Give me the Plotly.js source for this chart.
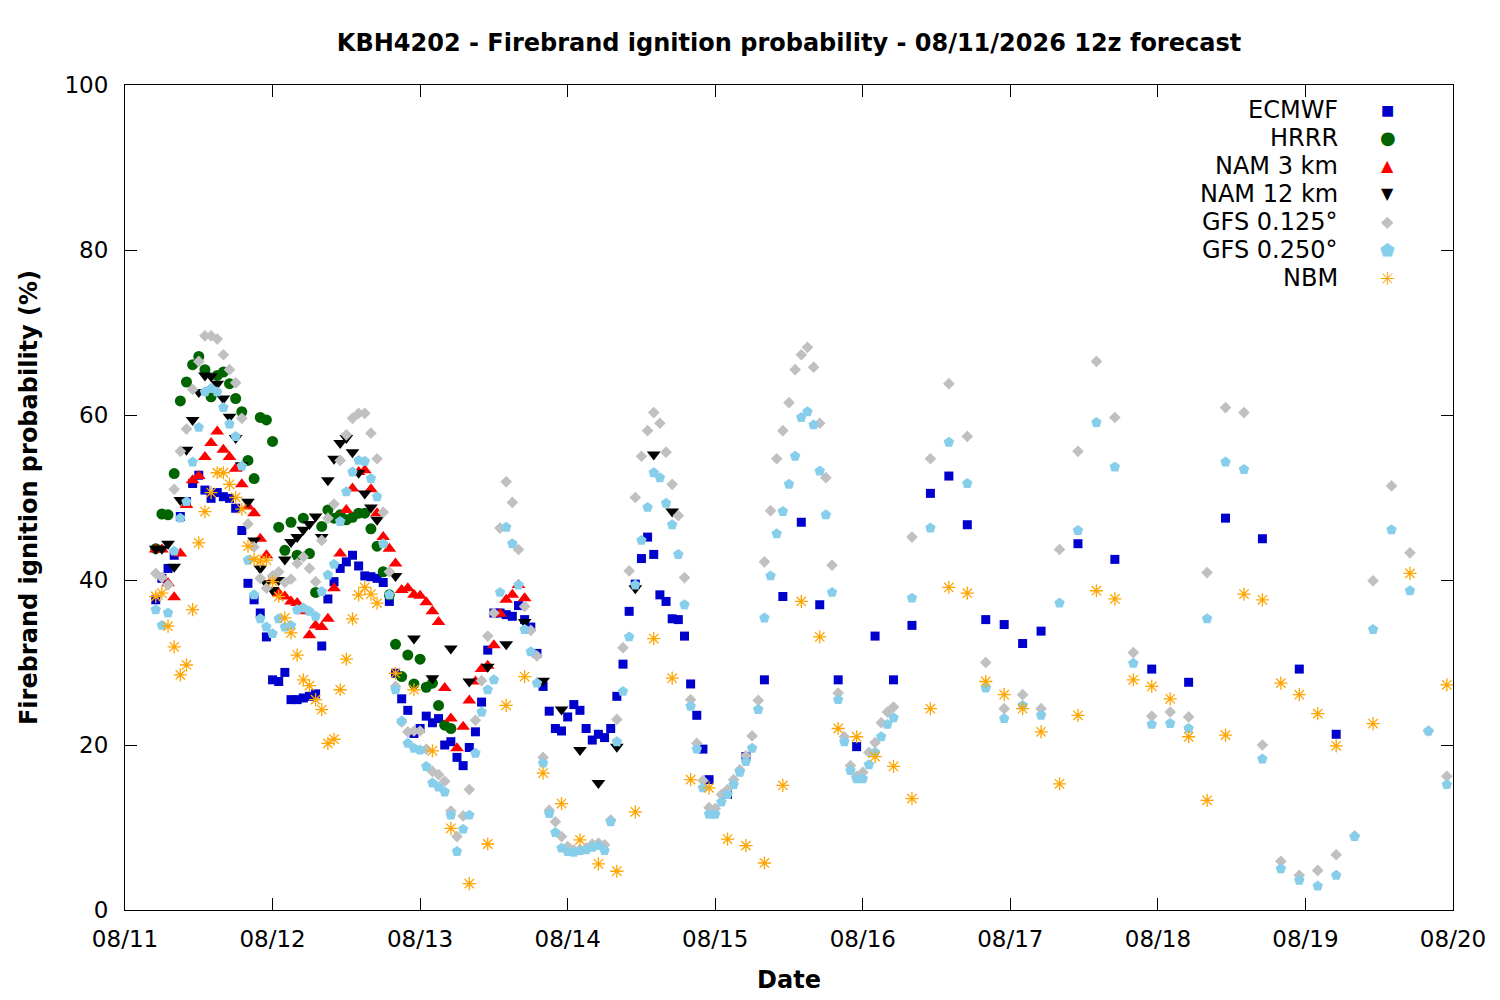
<!DOCTYPE html>
<html>
<head>
<meta charset="utf-8">
<script src="https://cdn.plot.ly/plotly-3.0.1.min.js"></script>
<style>
  body { margin: 0; background: #ffffff; }
</style>
</head>
<body>
<div id="GRAPH" style="width:1500px;height:1000px;"></div>
<script>
// forecast hours are counted from 08/11 00 (local), first valid time is hour 5
function hourRange(start, end, step) {
  var out = [];
  for (var h = start; h <= end; h += step) out.push(h);
  return out;
}

var ecmwfHours = hourRange(5, 95, 1).concat(hourRange(98, 149, 3), hourRange(155, 197, 6));
var hrrrHours = hourRange(5, 53, 1);
var nam3Hours = hourRange(5, 65, 1);
var nam12Hours = hourRange(5, 41, 1).concat(hourRange(44, 89, 3));
var gfsHours = hourRange(5, 125, 1).concat(hourRange(128, 215, 3));
var nbmHours = hourRange(5, 41, 1).concat(hourRange(44, 197, 3), hourRange(203, 215, 6));

var ecmwf = [
  37.6, 40.2, 41.4, 43.0, 47.7, 49.5, 51.7, 52.7, 50.9, 49.9, 50.6, 50.1, 49.9, 48.7, 46.0, 39.6,
  37.6, 36.0, 33.1, 27.9, 27.7, 28.8, 25.5, 25.5, 25.7, 25.9, 26.2, 32.0, 37.7, 39.8, 41.4, 42.2,
  43.0, 41.7, 40.5, 40.4, 40.2, 39.7, 37.4, 28.7, 25.6, 24.2, 21.4,
  22.0, 23.5, 22.7, 23.2, 20.0, 20.4, 18.5, 17.5, 19.7, 21.6, 25.2, 31.5, 36.0, 36.0, 35.8, 35.6,
  36.9, 35.2, 34.3, 31.1, 27.1, 24.1, 22.0, 21.7, 23.4, 24.9, 24.2, 22.0, 20.6, 21.3, 20.9, 22.0,
  25.9, 29.8, 36.2, 39.5, 42.6, 45.2, 43.1, 38.2, 37.4, 35.3, 35.2, 33.2, 27.4, 23.6, 19.5, 15.8,
  // 3-hourly
  14.0, 18.6, 27.9, 38.0, 47.0, 37.0, 27.9, 19.8, 33.2, 27.9, 34.5, 50.5, 52.6, 46.7, 35.2, 34.6,
  32.3, 33.8,
  // 6-hourly
  44.4, 42.5, 29.2, 27.6, 47.5, 45.0, 29.2, 21.3
];

var hrrr = [
  43.8, 48.0, 47.9, 52.9, 61.7, 64.0, 66.1, 67.1, 65.5, 62.2, 64.8, 65.2, 63.8, 62.0, 60.4, 54.5,
  52.3, 59.7, 59.4, 56.8, 46.4, 43.6, 47.0, 43.0, 47.5, 43.2, 38.5, 46.5, 48.5, 47.5, 47.9, 47.3,
  47.6, 48.1, 48.1, 46.2, 44.1, 41.0, 38.2, 32.2, 28.3, 30.9, 27.4, 30.4, 27.0, 27.5, 24.8, 22.4,
  22.0
];

var nam3 = [
  43.7, 43.7, 39.6, 37.9, 43.2, 49.1, 52.1, 52.6, 54.9, 56.6, 58.0, 55.8, 54.9, 53.5, 51.6, 48.9,
  48.1, 45.0, 43.0, 40.0, 38.4, 38.0, 37.4, 37.2, 36.2, 33.3, 34.5, 34.3, 35.3, 39.0, 43.2, 48.5,
  51.1, 53.1, 53.3, 51.0, 48.1, 45.2, 43.8, 42.0, 38.8, 39.0, 38.2, 38.1, 37.3, 36.2, 34.9, 26.9,
  23.2, 19.6, 22.2, 25.4, 27.7, 29.2, 29.6, 32.1, 35.9, 37.6, 38.2, 39.4, 37.8
];

var nam12 = [
  43.8, 43.8, 44.4, 41.6, 49.7, 55.8, 59.4, 62.8, 64.8, 64.7, 63.8, 62.0, 59.8, 57.2, 53.9, 49.5,
  44.8, 41.4, 39.6, 38.8, 40.0, 42.5, 44.6, 45.2, 46.1, 46.8, 47.7, 45.2, 52.1, 54.7, 56.6, 57.2,
  55.5, 53.0, 50.5, 48.8, 47.3,
  // 3-hourly
  40.5, 32.9, 28.1, 31.7, 27.7, 29.5, 32.2, 34.9, 27.8, 24.3, 19.4, 15.4, 19.8, 39.0, 55.2, 48.3
];

var gfs0125 = [
  40.8, 40.3, 39.4, 51.0, 55.6, 58.3, 63.1, 66.5, 69.6, 69.6, 69.2, 67.3, 65.5, 63.9, 59.6, 46.8,
  44.0, 40.2, 39.0, 40.5, 41.0, 39.7, 40.1, 42.0, 42.8, 41.4, 39.8, 44.8, 47.5, 49.2, 54.5, 57.6,
  59.6, 60.2, 60.2, 57.8, 54.7, 48.2, 41.0, 27.1, 22.8, 21.6, 21.7,
  21.7, 19.5, 16.8, 16.4, 15.6, 12.0, 8.9, 11.4, 14.6, 23.0, 27.8, 33.2, 36.0, 46.3, 51.9, 49.4,
  43.7, 36.8, 33.9, 30.8, 18.5, 12.1, 10.7,
  8.9, 7.7, 7.3, 7.3, 7.5, 8.0, 8.1, 7.9, 10.9, 23.1, 31.8, 41.1, 50.0, 55.0, 58.1, 60.3,
  59.0, 55.5, 51.6, 47.8, 40.3, 25.5, 20.2,
  15.7, 12.4, 12.3, 14.0, 14.6, 15.8, 17.0, 18.7, 21.1, 25.4, 42.2, 48.4, 54.7, 58.1, 61.5, 65.5,
  67.3, 68.2, 65.8, 59.0, 52.4, 41.8, 26.3, 21.0, 17.5, 16.2, 16.7, 19.1, 20.3, 22.7, 24.0, 24.6,
  // 3-hourly
  45.2, 54.7, 63.8, 57.4, 30.0, 24.4, 26.1, 24.4, 43.7, 55.6, 66.5, 59.7, 31.2, 23.5, 24.0, 23.4,
  40.9, 60.9, 60.3, 20.0, 5.9, 4.2, 4.8, 6.7, 9.0, 39.9, 51.4, 43.3, 21.7, 16.2
];

var gfs0250 = [
  36.4, 34.5, 36.0, 43.5, 47.5, 49.5, 54.3, 58.5, 62.8, 63.2, 62.8, 60.9, 58.9, 57.4, 53.8, 42.4,
  38.2, 35.3, 34.3, 33.5, 35.3, 34.3, 34.5, 36.4, 36.6, 36.2, 35.6, 38.6, 40.6, 41.9, 47.1, 50.7,
  53.1, 54.5, 54.4, 52.3, 50.1, 44.4, 38.2, 26.7, 22.9, 20.2, 19.6,
  19.4, 17.4, 15.4, 14.9, 14.3, 11.5, 7.1, 9.8, 11.5, 19.0, 24.0, 26.7, 27.9, 38.5, 46.4, 44.4,
  39.4, 34.0, 31.3, 27.5, 17.8, 11.7, 9.4,
  7.5, 7.1, 7.0, 7.2, 7.3, 7.6, 7.8, 7.2, 10.7, 20.4, 26.5, 33.1, 39.4, 44.8, 48.8, 53.0,
  52.4, 49.3, 46.7, 43.1, 37.0, 24.7, 19.5,
  14.8, 11.6, 11.6, 13.1, 14.0, 15.2, 16.7, 18.0, 19.6, 24.3, 35.4, 40.5, 45.6, 48.3, 51.6, 55.0,
  59.7, 60.4, 58.8, 53.2, 47.9, 38.5, 25.5, 20.4, 16.9, 15.9, 15.9, 17.6, 19.1, 21.0, 22.5, 23.3,
  // 3-hourly
  37.8, 46.3, 56.7, 51.7, 26.9, 23.2, 24.8, 23.6, 37.2, 46.0, 59.1, 53.7, 29.9, 22.5, 22.6, 22.0,
  35.3, 54.3, 53.4, 18.3, 5.0, 3.6, 2.9, 4.2, 8.9, 34.0, 46.1, 38.7, 21.7, 15.2
];

var nbm = [
  38.0, 38.4, 34.4, 31.9, 28.5, 29.7, 36.4, 44.5, 48.3, 50.6, 53.0, 53.0, 51.6, 50.0, 48.6, 44.1,
  42.5, 42.3, 42.4, 39.8, 38.0, 35.4, 33.6, 30.9, 27.9, 27.2, 25.5, 24.3, 20.2, 20.7, 26.7, 30.4,
  35.3, 38.2, 39.1, 38.3, 37.2,
  // 3-hourly
  28.7, 26.7, 19.3, 9.9, 3.2, 8.0, 24.8, 28.3, 16.6, 12.9, 8.5, 5.6, 4.7, 11.9, 32.9, 28.1,
  15.8, 14.8, 8.6, 7.8, 5.7, 15.1, 37.4, 33.1, 22.0, 21.0, 18.6, 17.4, 13.5, 24.4, 39.1, 38.4,
  27.7, 26.1, 24.4, 21.6, 15.3, 23.6, 38.7, 37.7, 27.9, 27.1, 25.6, 21.0, 13.3, 21.2, 38.3, 37.6,
  27.5, 26.1, 23.8, 19.9,
  // 6-hourly
  22.6, 40.8, 27.3
];

var dayTicks = ['08/11', '08/12', '08/13', '08/14', '08/15', '08/16', '08/17', '08/18', '08/19', '08/20'];

var FONT = 'DejaVu Sans, Verdana, sans-serif';

function pad(n) { return (n < 10 ? '0' : '') + n; }

// hour offset -> plotly date string
function toDate(h) {
  var d = new Date(Date.UTC(2026, 7, 11, 0) + h * 3600000);
  return d.getUTCFullYear() + '-' + pad(d.getUTCMonth() + 1) + '-' + pad(d.getUTCDate()) + ' ' +
    pad(d.getUTCHours()) + ':00';
}

function CreateTrace(hours, values, name, symbol, color, size) {
  if (hours.length != values.length) console.log(name, hours.length, values.length);
  var trace = {
    x: hours.map(toDate),
    y: values,
    type: 'scatter',
    mode: 'markers',
    name: name,
    showlegend: false,
    marker: {
      symbol: symbol,
      color: color,
      size: size,
      line: { width: 0 }
    }
  };
  if (symbol == 'asterisk-open') {
    trace.marker.line = { color: color, width: 1.3 };
  }
  return trace;
}

var series = [
  { name: 'ECMWF', hours: ecmwfHours, values: ecmwf, symbol: 'square', color: '#0000cc', size: 9, glyph: '\u25A0', gsize: 14 },
  { name: 'HRRR', hours: hrrrHours, values: hrrr, symbol: 'circle', color: '#006400', size: 11, glyph: '\u25CF', gsize: 18 },
  { name: 'NAM 3 km', hours: nam3Hours, values: nam3, symbol: 'triangle-up', color: '#ff0000', size: 12, glyph: '\u25B2', gsize: 16 },
  { name: 'NAM 12 km', hours: nam12Hours, values: nam12, symbol: 'triangle-down', color: '#000000', size: 12, glyph: '\u25BC', gsize: 16 },
  { name: 'GFS 0.125\u00b0', hours: gfsHours, values: gfs0125, symbol: 'diamond', color: '#c0c0c0', size: 9, glyph: '\u25C6', gsize: 16 },
  { name: 'GFS 0.250\u00b0', hours: gfsHours, values: gfs0250, symbol: 'pentagon', color: '#87ceeb', size: 11, glyph: '\u2B1F', gsize: 17 },
  { name: 'NBM', hours: nbmHours, values: nbm, symbol: 'asterisk-open', color: '#ffa500', size: 11, glyph: '\u2733', gsize: 18 }
];

var traces = [];
var annotations = [];
for (var i = 0; i < series.length; i++) {
  var s = series[i];
  traces.push(CreateTrace(s.hours, s.values, s.name, s.symbol, s.color, s.size));
  // gnuplot style key: text right aligned, symbol on the right
  var ky = 0.9697 - i * 0.03394;
  annotations.push({
    xref: 'paper', yref: 'paper', x: 0.915, y: ky,
    xanchor: 'right', yanchor: 'middle', showarrow: false,
    text: s.name, font: { family: FONT, size: 24, color: '#000' }
  });
  annotations.push({
    xref: 'paper', yref: 'paper', x: 0.951, y: ky,
    xanchor: 'center', yanchor: 'middle', showarrow: false,
    text: s.glyph, font: { family: FONT, size: s.gsize, color: s.color }
  });
}

var tickVals = [];
for (var d = 0; d < dayTicks.length; d++) tickVals.push(toDate(d * 24));

var layout = {
  width: 1500,
  height: 1000,
  paper_bgcolor: '#ffffff',
  plot_bgcolor: '#ffffff',
  font: { family: FONT, size: 23, color: '#000' },
  margin: { l: 125, r: 47, t: 85, b: 90, pad: 0 },
  showlegend: false,
  title: {
    text: '<b>KBH4202 - Firebrand ignition probability - 08/11/2026 12z forecast</b>',
    font: { family: FONT, size: 24 },
    xref: 'paper', x: 0.5, xanchor: 'center',
    yref: 'container', y: 0.957, yanchor: 'middle'
  },
  xaxis: {
    type: 'date',
    range: [toDate(0), toDate(216)],
    tickvals: tickVals,
    ticktext: dayTicks,
    ticks: 'inside',
    ticklen: 12,
    tickcolor: '#000',
    showline: true,
    linecolor: '#000',
    linewidth: 1,
    mirror: 'ticks',
    showgrid: false,
    zeroline: false,
    ticklabelstandoff: 8,
    tickfont: { family: FONT, size: 23 },
    title: { text: '<b>Date</b>', font: { family: FONT, size: 24 }, standoff: 20 }
  },
  yaxis: {
    range: [0, 100],
    dtick: 20,
    ticks: 'inside',
    ticklen: 12,
    tickcolor: '#000',
    showline: true,
    linecolor: '#000',
    linewidth: 1,
    mirror: 'ticks',
    showgrid: false,
    zeroline: false,
    ticklabelstandoff: 11,
    tickfont: { family: FONT, size: 23 },
    title: { text: '<b>Firebrand ignition probability (%)</b>', font: { family: FONT, size: 24 }, standoff: 20 }
  },
  annotations: annotations
};

Plotly.newPlot('GRAPH', traces, layout, { staticPlot: true });
</script>
</body>
</html>
